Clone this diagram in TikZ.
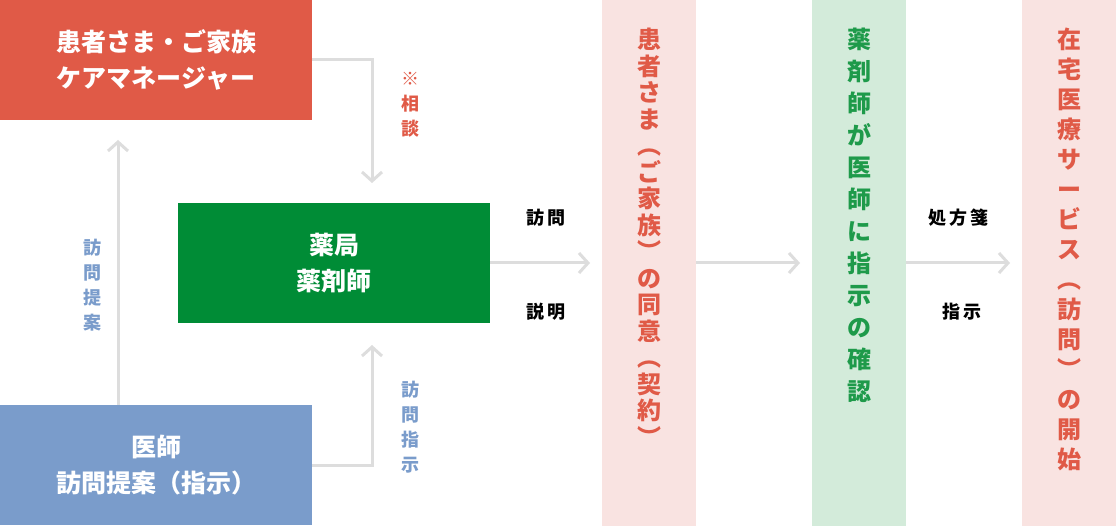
\documentclass[tikz,border=0pt]{standalone}
\usepackage{fontspec}
\setmainfont{Noto Sans CJK JP}
\usetikzlibrary{arrows.meta}
\definecolor{boxred}{HTML}{E05A47}
\definecolor{boxgreen}{HTML}{008C36}
\definecolor{boxblue}{HTML}{7A9CCB}
\definecolor{colpink}{HTML}{F9E3E1}
\definecolor{colgreen}{HTML}{D3EBDA}
\definecolor{linegray}{HTML}{DDDDDD}
\definecolor{txtred}{HTML}{E05A47}
\definecolor{txtgreen}{HTML}{1E9A4A}
\tikzset{
  mainbox/.style={minimum width=312pt, minimum height=120pt, inner sep=0pt, text=white,
    align=center, font=\fontsize{25}{36}\selectfont\bfseries},
  column/.style={minimum width=94pt, minimum height=526pt, inner sep=0pt},
  coltext/.style={align=center, inner sep=0pt},
  flow/.style={draw=linegray, line width=3pt, -{Straight Barb[length=9pt,width=20pt,line width=3pt]}},
  lbl/.style={font=\fontsize{18}{25}\selectfont\bfseries, align=center, inner sep=0pt}
}
\begin{document}
\begin{tikzpicture}[x=1pt,y=-1pt]
    \useasboundingbox (0,0) rectangle (1116,526);

    \node[mainbox, fill=boxred] (family) at (156,60) {患者さま・ご家族\\ケアマネージャー};
    \node[mainbox, fill=boxgreen] (pharm) at (334,263) {薬局\\薬剤師};
    \node[mainbox, fill=boxblue] (doctor) at (156,465) {医師\\訪問提案（指示）};

    \node[column, fill=colpink] (consent) at (649,263) {};
    \node[column, fill=colgreen] (check) at (859,263) {};
    \node[column, fill=colpink] (start) at (1069,263) {};

    \node[coltext, text=txtred, font=\fontsize{24}{26.5}\selectfont\bfseries, anchor=north] (consenttxt) at (649,28)
        {患\\者\\さ\\ま\\︵\\ご\\家\\族\\︶\\の\\同\\意\\︵\\契\\約\\︶};
    \node[coltext, text=txtgreen, font=\fontsize{24}{32}\selectfont\bfseries, anchor=north] (checktxt) at (859,28)
        {薬\\剤\\師\\が\\医\\師\\に\\指\\示\\の\\確\\認};
    \node[coltext, text=txtred, font=\fontsize{24}{30}\selectfont\bfseries, anchor=north] (starttxt) at (1069,28)
        {在\\宅\\医\\療\\サ\\ー\\ビ\\ス\\︵\\訪\\問\\︶\\の\\開\\始};

    % arrows
    \coordinate (bendA) at (372,60);
    \coordinate (bendB) at (372,465);
    \draw[flow] (family.east) -- (bendA) -- (372,183);
    \draw[flow] (doctor.east |- bendB) -- (bendB) -- (372,345);
    \draw[flow] (doctor.north -| 118,0) -- (118,140);
    \draw[flow] (pharm.east) -- (590,263);
    \draw[flow] (consent.east |- 0,263) -- (800,263);
    \draw[flow] (check.east |- 0,263) -- (1010,263);

    % labels
    \node[lbl, text=txtred] (lblconsult) at (410,105) {※\\相\\談};
    \node[lbl, text=boxblue] (lblorder) at (410,427) {訪\\問\\指\\示};
    \node[lbl, text=boxblue] (lblpropose) at (92,285) {訪\\問\\提\\案};
    \node[lbl] (lblvisit) at (546,218) {訪\,問};
    \node[lbl] (lblexplain) at (546,312) {説\,明};
    \node[lbl] (lblrx) at (958,218) {処\,方\,箋};
    \node[lbl] (lblinstr) at (962,312) {指\,示};
\end{tikzpicture}
\end{document}
